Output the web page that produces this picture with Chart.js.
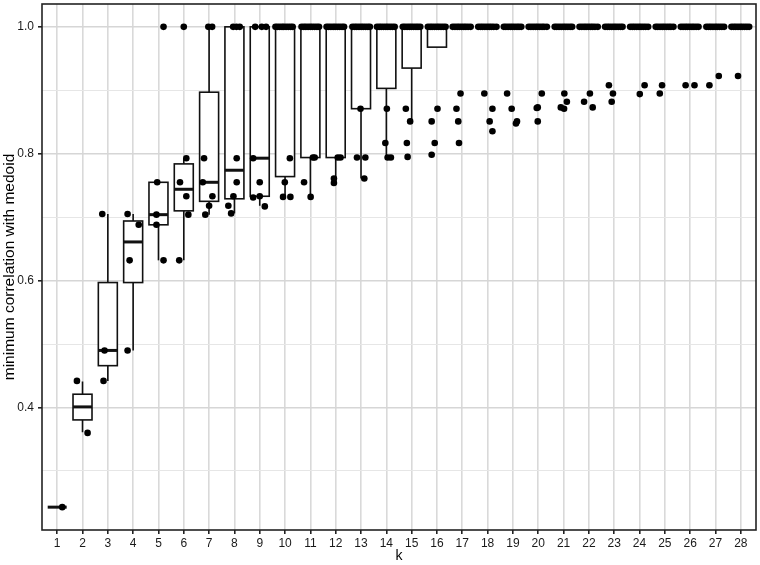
<!DOCTYPE html>
<html>
<head>
<meta charset="utf-8">
<script src="https://cdn.jsdelivr.net/npm/chart.js@4.4.1/dist/chart.umd.min.js"></script>
<style>
  body { margin: 0; background: #fff; }
  canvas { display: block; background: #fff; }
</style>
</head>
<body>
<canvas id="chart_box" width="760" height="565"></canvas>
<script>
// k values (x categories)
const k_values = [1,2,3,4,5,6,7,8,9,10,11,12,13,14,15,16,17,18,19,20,21,22,23,24,25,26,27,28];
const y_ticks = [0.3, 0.4, 0.5, 0.6, 0.7, 0.8, 0.9, 1.0];
const y_labels = ["0.4", "0.6", "0.8", "1.0"];

// box stats per k
const whisk_lo = [0.243,0.361,0.442,0.490,0.632,0.632,0.704,0.706,0.718,0.732,0.732,0.754,0.761,0.794,0.851,0.968,1,1,1,1,1,1,1,1,1,1,1,1];
const q1 =       [0.243,0.3805,0.466,0.597,0.688,0.710,0.725,0.729,0.733,0.764,0.794,0.794,0.871,0.903,0.935,0.968,1,1,1,1,1,1,1,1,1,1,1,1];
const median =   [0.243,0.401,0.490,0.661,0.704,0.744,0.755,0.774,0.793,1,1,1,1,1,1,1,1,1,1,1,1,1,1,1,1,1,1,1];
const q3 =       [0.243,0.421,0.597,0.694,0.755,0.784,0.897,1,1,1,1,1,1,1,1,1,1,1,1,1,1,1,1,1,1,1,1,1];
const whisk_hi = [0.243,0.441,0.705,0.705,0.755,0.793,1,1,1,1,1,1,1,1,1,1,1,1,1,1,1,1,1,1,1,1,1,1];

// jittered observations below 1.0 (and the few early ones at 1.0)
const obs_x = [
  1.2,
  1.78, 2.2,
  2.78, 2.87, 2.83,
  3.78, 4.22, 3.86, 3.78,
  5.2, 4.95, 4.92, 4.92, 5.2,
  6.0, 6.1, 5.85, 6.1, 6.18, 5.82,
  6.97, 7.12, 6.8, 6.75, 7.13, 7.0, 6.85,
  7.95, 8.08, 8.21, 8.09, 8.09, 7.96, 7.76, 7.87,
  8.82, 9.08, 9.25, 8.74, 9.0, 8.74, 9.0, 9.2,
  10.19, 9.99, 9.92, 10.21,
  11.1, 11.17, 10.75, 11.01,
  12.08, 12.19, 11.93, 11.93,
  12.98, 12.84, 13.17, 13.13,
  14.02, 13.96, 14.05, 14.18,
  14.77, 14.94, 14.81, 14.84,
  16.02, 15.79, 15.91, 15.79,
  16.93, 16.77, 16.84, 16.87,
  17.87, 18.19, 18.08, 18.19,
  18.77, 18.95, 19.16, 19.12,
  20.14, 19.94, 19.98, 19.98,
  21.03, 21.13, 20.89, 21.02,
  21.81, 22.04, 22.15,
  22.79, 22.95, 22.9,
  24.01, 24.2,
  24.8, 24.89,
  25.82, 26.17,
  26.76, 27.13,
  27.89
];
const obs_y = [
  0.243,
  0.442, 0.36,
  0.705, 0.49, 0.442,
  0.705, 0.688, 0.632, 0.49,
  1.0, 0.755, 0.704, 0.688, 0.632,
  1.0, 0.793, 0.755, 0.733, 0.704, 0.632,
  1.0, 1.0, 0.793, 0.755, 0.733, 0.718, 0.704,
  1.0, 1.0, 1.0, 0.793, 0.755, 0.733, 0.718, 0.706,
  1.0, 1.0, 1.0, 0.793, 0.755, 0.731, 0.733, 0.717,
  0.793, 0.755, 0.732, 0.732,
  0.794, 0.794, 0.755, 0.732,
  0.794, 0.794, 0.761, 0.754,
  0.871, 0.794, 0.794, 0.761,
  0.871, 0.817, 0.794, 0.794,
  0.871, 0.851, 0.817, 0.795,
  0.871, 0.851, 0.817, 0.7985,
  0.895, 0.871, 0.851, 0.817,
  0.895, 0.871, 0.851, 0.8355,
  0.895, 0.871, 0.851, 0.8476,
  0.895, 0.872, 0.873, 0.851,
  0.895, 0.882, 0.873, 0.871,
  0.882, 0.895, 0.873,
  0.908, 0.895, 0.882,
  0.894, 0.908,
  0.895, 0.908,
  0.908, 0.908,
  0.908, 0.9225,
  0.9225
];

// observations sitting at exactly 1.0 for k >= 10 (jittered x)
const top_x = [
  9.62, 9.7, 9.79, 9.88, 9.95, 10.04, 10.13, 10.22, 10.3,
  10.65, 10.74, 10.82, 10.91, 11.0, 11.08, 11.17, 11.26, 11.34,
  11.64, 11.72, 11.81, 11.9, 11.98, 12.07, 12.16, 12.25, 12.33,
  12.66, 12.75, 12.83, 12.92, 13.01, 13.09, 13.18, 13.27, 13.35,
  13.63, 13.72, 13.8, 13.89, 13.98, 14.06, 14.15, 14.24, 14.33,
  14.65, 14.73, 14.82, 14.91, 14.99, 15.08, 15.17, 15.25, 15.34,
  15.64, 15.73, 15.81, 15.9, 15.99, 16.07, 16.16, 16.25, 16.34,
  16.62, 16.71, 16.8, 16.88, 16.97, 17.06, 17.14, 17.23, 17.33,
  17.63, 17.72, 17.8, 17.89, 17.98, 18.07, 18.15, 18.24, 18.35,
  18.64, 18.72, 18.81, 18.9, 18.98, 19.07, 19.16, 19.24, 19.33,
  19.62, 19.71, 19.8, 19.89, 19.97, 20.06, 20.15, 20.23, 20.34,
  20.65, 20.73, 20.82, 20.91, 21.0, 21.08, 21.17, 21.26, 21.34,
  21.63, 21.72, 21.81, 21.89, 21.98, 22.07, 22.15, 22.24, 22.35,
  22.64, 22.73, 22.81, 22.9, 22.99, 23.07, 23.16, 23.25, 23.33,
  23.63, 23.72, 23.8, 23.89, 23.98, 24.06, 24.15, 24.24, 24.34,
  24.64, 24.72, 24.81, 24.9, 24.98, 25.07, 25.16, 25.24, 25.34,
  25.63, 25.72, 25.81, 25.89, 25.98, 26.07, 26.15, 26.24, 26.33,
  26.64, 26.73, 26.81, 26.9, 26.99, 27.07, 27.16, 27.25, 27.34,
  27.63, 27.72, 27.8, 27.89, 27.98, 28.06, 28.15, 28.24, 28.33
];

const points = obs_x.map((x, i) => ({ x: x, y: obs_y[i] }))
  .concat(top_x.map(x => ({ x: x, y: 1.0 })));

function isMajor(v) {
  return y_labels.includes(v.toFixed(1));
}

// draws boxes, whiskers and medians under the points
const boxplot = {
  id: 'boxplot',
  beforeDatasetsDraw(chart) {
    const c = chart.ctx;
    const xs = chart.scales.x;
    const ys = chart.scales.y;
    c.save();
    c.strokeStyle = '#111';
    c.lineCap = 'butt';
    k_values.forEach((k, i) => {
      const xc = xs.getPixelForValue(k);
      const hw = xs.getPixelForValue(k + 0.375) - xc;
      const yLo = ys.getPixelForValue(whisk_lo[i]);
      const yQ1 = ys.getPixelForValue(q1[i]);
      const yMed = ys.getPixelForValue(median[i]);
      const yQ3 = ys.getPixelForValue(q3[i]);
      const yHi = ys.getPixelForValue(whisk_hi[i]);
      c.lineWidth = 1.6;
      c.beginPath();
      c.moveTo(xc, yHi); c.lineTo(xc, yQ3);
      c.moveTo(xc, yQ1); c.lineTo(xc, yLo);
      c.stroke();
      if (q3[i] > q1[i]) {
        c.fillStyle = '#fff';
        c.fillRect(xc - hw, yQ3, 2 * hw, yQ1 - yQ3);
        c.strokeRect(xc - hw, yQ3, 2 * hw, yQ1 - yQ3);
      }
      c.lineWidth = 3;
      c.beginPath();
      c.moveTo(xc - hw, yMed); c.lineTo(xc + hw, yMed);
      c.stroke();
    });
    c.restore();
  },
  afterDraw(chart) {
    const a = chart.chartArea;
    const c = chart.ctx;
    c.save();
    c.strokeStyle = '#222';
    c.lineWidth = 1.6;
    c.strokeRect(a.left, a.top, a.right - a.left, a.bottom - a.top);
    c.restore();
  }
};

new Chart(document.getElementById('chart_box'), {
  type: 'scatter',
  data: {
    datasets: [{
      data: points,
      pointRadius: 3.3,
      pointBackgroundColor: '#000',
      pointBorderWidth: 0
    }]
  },
  options: {
    responsive: false,
    animation: false,
    layout: { padding: { top: 2, right: 3, left: 0, bottom: 0 } },
    plugins: { legend: { display: false }, tooltip: { enabled: false } },
    scales: {
      x: {
        type: 'linear',
        min: 0.4,
        max: 28.6,
        afterBuildTicks: s => { s.ticks = k_values.map(v => ({ value: v })); },
        afterFit: s => { s.height = 35; s.paddingLeft = 0; s.paddingRight = 0; },
        border: { display: false },
        grid: { color: '#d9d9d9', lineWidth: 1.6, tickColor: '#222', tickLength: 4 },
        ticks: { color: '#1a1a1a', font: { family: 'Liberation Sans', size: 12 }, padding: 2, maxRotation: 0, autoSkip: false },
        title: { display: true, text: 'k', color: '#000', font: { family: 'Liberation Sans', size: 14 }, padding: { top: 1, bottom: 0 } }
      },
      y: {
        min: 0.207,
        max: 1.036,
        afterBuildTicks: s => { s.ticks = y_ticks.map(v => ({ value: v })); },
        afterFit: s => { s.width = 42; s.paddingTop = 0; s.paddingBottom = 0; },
        border: { display: false },
        grid: {
          color: ctx => isMajor(ctx.tick.value) ? '#d6d6d6' : '#e6e6e6',
          lineWidth: ctx => isMajor(ctx.tick.value) ? 1.6 : 1.1,
          tickColor: ctx => isMajor(ctx.tick.value) ? '#222' : 'rgba(0,0,0,0)',
          tickLength: 4
        },
        ticks: {
          color: '#1a1a1a',
          font: { family: 'Liberation Sans', size: 12 },
          padding: 4,
          callback: v => isMajor(v) ? v.toFixed(1) : ''
        },
        title: { display: true, text: 'minimum correlation with medoid', color: '#000', font: { family: 'Liberation Sans', size: 15.5 }, padding: { top: 0, bottom: 0 } }
      }
    }
  },
  plugins: [boxplot]
});
</script>
</body>
</html>
